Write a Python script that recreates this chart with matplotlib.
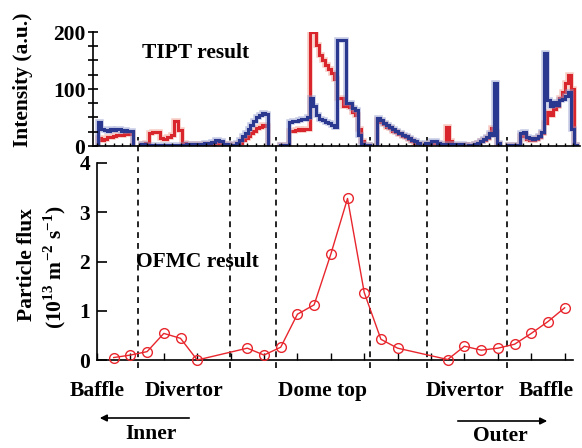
import numpy as np
import matplotlib.pyplot as plt
from matplotlib.ticker import MultipleLocator

plt.rcParams['font.family'] = ['Liberation Serif', 'DejaVu Serif']
plt.rcParams['font.weight'] = 'bold'
plt.rcParams['mathtext.fontset'] = 'custom'
plt.rcParams['mathtext.rm'] = 'Liberation Serif:bold'
plt.rcParams['mathtext.bf'] = 'Liberation Serif:bold'

# OFMC particle flux (1e13 m^-2 s^-1) along the divertor surface
pos = [5, 10, 15, 20, 25, 30, 45, 50, 55, 60, 65, 70, 75, 80, 85, 90,
       105, 110, 115, 120, 125, 130, 135, 140]
flux = [0.05, 0.10, 0.17, 0.54, 0.44, 0.0, 0.24, 0.10, 0.26, 0.93, 1.12, 2.15,
        3.28, 1.37, 0.42, 0.24, 0.01, 0.28, 0.20, 0.24, 0.32, 0.54, 0.78, 1.06]

# region borders and names
borders = [12.3, 39.8, 53.6, 81.7, 98.8, 122.8]
regions = ['Baffle', 'Divertor', 'Dome top', 'Divertor', 'Baffle']

# TIPT intensity, one step trace per camera segment
seg_start = [0.3, 13.2, 40.7, 54.8, 83.8, 98.2, 111.1, 123.1]
seg_end = [10.8, 39.8, 51.2, 81.7, 96.7, 110.8, 120.7, 143.8]
tipt_red = [
    [14, 11, 12, 15, 16, 18, 19, 19, 20, 21, 21, 22],
    [3, 5, 22, 25, 24, 14, 12, 15, 20, 44, 28, 6, 4, 3, 3, 3, 3, 4, 4, 4, 5, 6, 4, 3],
    [1, 3, 6, 10, 14, 18, 22, 27, 31, 34, 36, 35],
    [1, 1, 1, 27, 27, 28, 29, 28, 30, 30, 200, 200, 178, 160, 150, 142, 135, 128,
     118, 85, 85, 70, 72, 68, 60, 55, 30, 8, 2, 1],
    [46, 42, 38, 34, 31, 27, 24, 21, 18, 15, 12, 9, 6, 4],
    [3, 4, 5, 5, 3, 2, 2, 34, 8, 2, 2, 2, 2, 2],
    [1, 2, 4, 5, 8, 11, 14, 20, 31, 25, 3],
    [1, 1, 1, 1, 18, 20, 13, 11, 11, 12, 16, 22, 40, 60, 55, 65, 70, 85, 95, 110,
     125, 100, 1],
]
tipt_blue = [
    [42, 30, 28, 27, 29, 28, 30, 29, 27, 28, 27, 26],
    [3, 2, 2, 2, 2, 2, 2, 2, 2, 2, 2, 2, 3, 3, 3, 4, 4, 5, 6, 7, 10, 9, 4, 3],
    [2, 6, 11, 17, 23, 30, 37, 44, 50, 55, 58, 57],
    [1, 1, 1, 42, 43, 44, 45, 47, 48, 50, 85, 70, 55, 48, 45, 42, 40, 37, 33,
     186, 186, 186, 75, 75, 66, 64, 20, 4, 2, 1],
    [49, 45, 41, 37, 34, 30, 27, 23, 20, 17, 14, 11, 8, 5],
    [5, 6, 8, 8, 5, 3, 3, 3, 3, 2, 3, 3, 3, 2],
    [1, 2, 4, 6, 9, 12, 16, 22, 19, 110, 5],
    [1, 1, 1, 2, 22, 25, 16, 14, 13, 14, 18, 24, 163, 80, 70, 78, 72, 80, 82,
     88, 95, 30, 1],
]

RED = '#d8262c'
BLUE = '#2b3890'

W, H = 582, 448
fig = plt.figure(figsize=(W / 100, H / 100), dpi=100)


def fx(x):
    return x / W


def fy(y):
    return 1 - y / H


# top panel: TIPT
ax1 = fig.add_axes([fx(93), fy(146), fx(580) - fx(93), fy(32) - fy(146)])
for s, e, r, b in zip(seg_start, seg_end, tipt_red, tipt_blue):
    edges = np.linspace(s, e, len(r) + 1)
    ax1.stairs(r, edges, baseline=0, color='#ee9a8c', lw=4, alpha=0.5)
    ax1.stairs(r, edges, baseline=0, color=RED, lw=2.2)
    ax1.stairs(b, edges, baseline=0, color='#8f98cc', lw=4, alpha=0.5)
    ax1.stairs(b, edges, baseline=0, color=BLUE, lw=2.2)
ax1.set_xlim(-1.2, 144.6)
ax1.set_ylim(0, 200)
ax1.set_yticks([0, 100, 200])
ax1.yaxis.set_minor_locator(MultipleLocator(25))
ax1.xaxis.set_major_locator(MultipleLocator(2.5))
ax1.tick_params(axis='y', which='both', direction='inout', length=7, width=1.2,
                labelsize=15.5, pad=2)
ax1.tick_params(axis='x', direction='in', length=2.5, width=1, labelbottom=False)
for side in ['top', 'right']:
    ax1.spines[side].set_visible(False)
for side in ['left', 'bottom']:
    ax1.spines[side].set_linewidth(1.2)

# bottom panel: OFMC
ax2 = fig.add_axes([fx(97), fy(360), fx(573) - fx(97), fy(163) - fy(360)])
ax2.plot(pos, flux, color='#e8262d', lw=1, marker='o', ms=7, mfc='none',
         mec='#e8262d', mew=1, clip_on=False, zorder=3)
ax2.set_xlim(0, 142.5)
ax2.set_ylim(0, 4)
ax2.set_yticks([0, 1, 2, 3, 4])
ax2.xaxis.set_major_locator(MultipleLocator(10))
ax2.tick_params(axis='y', direction='in', length=7, width=1.2, labelsize=15.5, pad=5)
ax2.tick_params(axis='x', direction='in', length=5, width=1, labelbottom=False)
for side in ['top', 'right']:
    ax2.spines[side].set_visible(False)
for side in ['left', 'bottom']:
    ax2.spines[side].set_linewidth(1.2)

for b in borders:
    ax2.plot([b, b], [-0.041, 1.132], transform=ax2.get_xaxis_transform(),
             color='black', lw=1.2, dashes=(3.5, 3), clip_on=False, zorder=1)

# region names below the axis
region_px = [97, 184, 322, 465, 546]
for name, x in zip(regions, region_px):
    fig.text(fx(x), fy(391), name, ha='center', va='center', fontsize=15.5)

# in-panel titles and axis labels
fig.text(fx(196), fy(53), 'TIPT result', ha='center', va='center', fontsize=15.5)
fig.text(fx(197), fy(262), 'OFMC result', ha='center', va='center', fontsize=15.5)
fig.text(fx(23), fy(80), 'Intensity (a.u.)', rotation=90, ha='center',
         va='center', fontsize=15.5)
fig.text(fx(27), fy(265), 'Particle flux', rotation=90, ha='center',
         va='center', fontsize=15.5)
fig.text(fx(55), fy(267), r'(10$^{13}$ m$^{-2}$ s$^{-1}$)', rotation=90,
         ha='center', va='center', fontsize=15.5)

# inner / outer arrows
fig.add_artist(plt.Annotation('', xy=(fx(97), fy(418)), xytext=(fx(192), fy(418)),
                              xycoords='figure fraction',
                              arrowprops=dict(arrowstyle='-|>', lw=1.2,
                                              color='black', mutation_scale=10)))
fig.text(fx(151), fy(434), 'Inner', ha='center', va='center', fontsize=15.5)
fig.add_artist(plt.Annotation('', xy=(fx(550), fy(421)), xytext=(fx(455), fy(421)),
                              xycoords='figure fraction',
                              arrowprops=dict(arrowstyle='-|>', lw=1.2,
                                              color='black', mutation_scale=10)))
fig.text(fx(500), fy(436), 'Outer', ha='center', va='center', fontsize=15.5)

fig.savefig('out.png', dpi=100)
